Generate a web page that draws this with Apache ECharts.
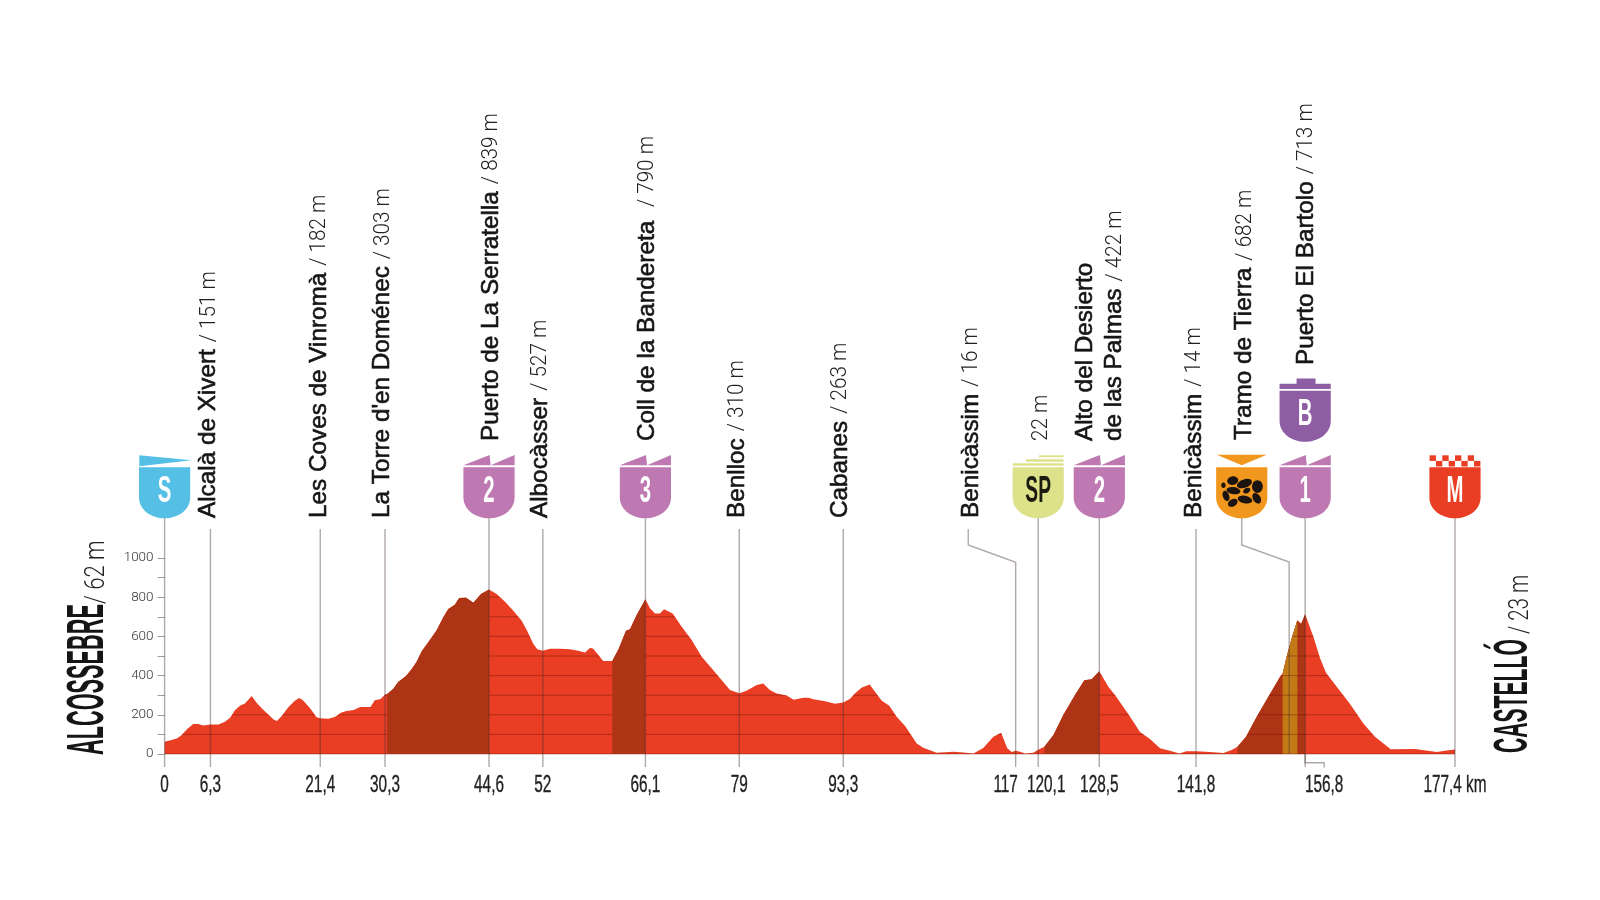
<!DOCTYPE html>
<html><head><meta charset="utf-8">
<style>html,body{margin:0;padding:0;background:#fff}#c{width:1600px;height:900px}</style>
<script src="https://cdn.jsdelivr.net/npm/echarts@6/dist/echarts.min.js"></script>
</head><body><div id="c"></div>
<script>
// ---- values ----
const km = [0,0.96,1.75,2.35,3.1,3.95,4.64,5.3,6.3,7.4,8.3,9,9.7,10.4,11.05,11.97,12.65,13.35,14,14.95,15.45,16.1,17,17.9,18.5,18.98,20,20.9,21.4,22.5,23.4,24.3,25,26,26.9,28.3,28.9,29.7,30.3,30.6,31.45,32.1,33.2,34,34.65,35.35,36.25,37.4,38.3,39,39.9,40.5,41.45,42.45,43.5,44.6,45.65,46.8,47.94,49.09,49.8,50.7,51.24,52,52.98,54.36,55.73,56.88,57.8,58.5,58.94,59.63,60.3,61.55,62.4,63.43,63.98,64.9,66.1,66.73,67.42,68.1,68.66,69.85,71.09,72.46,73.84,75.2,76.36,77.73,79,80,81.4,82.3,83.2,84.15,85.5,86.5,87.8,88.5,89.2,90.8,92.16,93.3,94.2,94.9,95.8,96.93,97.66,98.6,99.63,100.64,101.8,103.4,104.3,106.14,108.43,109.8,111.2,112.55,113.93,115,115.85,116.45,117,117.6,118.3,119.43,120.1,120.95,122.2,123.55,125.16,126.44,127.45,128.5,129.74,130.66,132.5,134.1,135.5,136.85,138.2,139.5,140.5,141.8,143.7,145.56,146.7,147.5,148.67,150.14,151.74,153.35,153.7,154.26,154.95,155.73,156.24,156.8,157.93,158.85,159.67,161.14,162.97,164.8,166.4,168.56,171.9,174.9,176.5,177.4];
const elevation = [62,71,80,97,128,153,153,146,151,150,165,185,224,248,258,296,262,233,211,177,168,194,238,272,286,275,233,187,182,180,189,212,219,224,240,240,274,280,303,306,333,367,398,435,471,524,570,632,697,740,762,796,797,772,816,839,816,777,731,680,632,561,535,527,537,537,534,527,518,542,537,505,474,474,535,629,636,709,790,743,717,717,739,717,649,581,496,437,386,326,310,323,352,360,326,309,299,277,287,287,279,269,257,263,280,309,338,354,318,272,246,190,143,54,32,7,12,8,3,31,88,109,29,10,16,12,3,7,22,37,97,199,301,376,381,422,343,301,203,112,75,29,17,2,14,14,10,5,20,37,88,190,292,394,410,496,590,682,663,713,598,488,415,343,255,156,88,24,25,10,19,23];
const climbs = [[30.6,44.6],[61.55,66.1],[120.95,128.5]];
const lastClimb = [147.5,156.8];
const gravel = [153.7,155.73];
const gridLevels = [0,100,200,300,400,500,600,700,800];

const tickKm = [0,6.3,21.4,30.3,44.6,52,66.1,79,93.3,117,120.1,128.5,141.8,156.8,177.4];
const tickLabels = ['0','6,3','21,4','30,3','44,6','52','66,1','79','93,3','117','120,1','128,5','141,8','156,8','177,4 km'];

const placeKm = [6.3,21.4,30.3,44.6,52,66.1,79,93.3,117,120.1,128.5,128.5,141.8,148.08,156.8];
const placeNames = ['Alcalà de Xivert','Les Coves de Vinromà',"La Torre d'en Doménec",'Puerto de La Serratella','Albocàsser','Coll de la Bandereta ','Benlloc','Cabanes','Benicàssim','','Alto del Desierto','de las Palmas','Benicàssim','Tramo de Tierra','Puerto El Bartolo'];
const placeHeights = ['/ 151 m','/ 182 m','/ 303 m','/ 839 m','/ 527 m','/ 790 m','/ 310 m','/ 263 m','/ 16 m','22 m','','/ 422 m','/ 14 m','/ 682 m','/ 713 m'];

const iconKm = [0,44.6,66.1,120.1,128.5,148.08,156.8,156.8,177.4];
const iconKinds = ['start','climb','climb','sprint','climb','gravel','climb','bonus','finish'];
const iconLetters = ['S','2','3','SP','2','','1','B','M'];

const startName = 'ALCOSSEBRE', startHeight = '/ 62 m';
const finishName = 'CASTELLÓ', finishHeight = '/ 23 m';

// ---- layout (pixels) ----
const AX = {left:164.6,width:1290.4,top:558,height:196};
const placeDx = [5.3,6.4,5,9,4.7,8.6,5,4,-37.4,10,-6.3,22.4,5,10,8];
const placeBottom = [518,518,518,441,518,441,518,518,518,441,441,441,518,440,365];
const tickDx = [0,0,0,0,0,0,0,0,0,-10,8,0,0,19,0];
const plainLeaders = [6.3,21.4,30.3,52,79,93.3,141.8];
const shieldLeaders = [0,44.6,66.1,120.1,128.5,156.8,177.4];
const COLORS = {start:'#55BFE6',climb:'#BE78B2',sprint:'#DDE28A',gravel:'#F2971E',bonus:'#8E5EA5',finish:'#E93E24'};
const NAME_FONT = '"Liberation Sans", Arial, sans-serif';
const THIN_FONT = 'Roboto, "Liberation Sans", sans-serif';
const NAME_STYLE = '400 24.3px '+NAME_FONT, THIN_STYLE = '300 22px '+THIN_FONT;
const measure = document.createElement('canvas').getContext('2d');
function textWidth(t,font){measure.font=font;return measure.measureText(t).width;}

const profile = km.map((k,i)=>[k,elevation[i]]);
const slice = r => profile.filter(p=>p[0]>=r[0]&&p[0]<=r[1]);
const areaSeries = (data,color,z)=>({type:'line',data,z,silent:true,showSymbol:false,symbol:'none',
  lineStyle:{width:0,color},areaStyle:{color,opacity:1},itemStyle:{color}});

function leaderPath(pts){return {type:'polyline',shape:{points:pts},style:{fill:null,stroke:'rgba(70,50,50,0.42)',lineWidth:1.4}};}

function renderLeaders(p,api){
  const x=api.coord([plainLeaders[p.dataIndex],0])[0];
  return leaderPath([[x,529],[x,767]]);
}
function renderShieldLeaders(p,api){
  const x=api.coord([shieldLeaders[p.dataIndex],0])[0];
  return leaderPath([[x,516],[x,767]]);
}
function renderSpecial(p,api){
  const c=k=>api.coord([k,0])[0], b=api.coord([0,0])[1];
  const x117=c(117),xg=c(154.6),xi=c(148.08),x156=c(156.8);
  const sets=[
    [[x117-47.4,529],[x117-47.4,545],[x117,562.3],[x117,767]],
    [[xi,518],[xi,545],[xg,562],[xg,b]],
    [[x156,b],[x156,762.7],[x156+19,762.7],[x156+19,767.5]]
  ];
  return leaderPath(sets[p.dataIndex]);
}
function renderGrid(p,api){
  const y=api.coord([0,gridLevels[p.dataIndex]])[1];
  const a=api.coord([0,0]),b=api.coord([177.4,0]);
  const pts=profile.map(q=>api.coord(q)); pts.push([b[0],b[1]+1],[a[0],a[1]+1]);
  return {type:'line',shape:{x1:a[0],y1:y,x2:b[0],y2:y},
    clipPath:{type:'polygon',shape:{points:pts}},
    style:{stroke:'rgba(110,15,0,0.42)',lineWidth:1}};
}
function renderTicks(p,api){
  const i=p.dataIndex,x=api.coord([tickKm[i],0])[0]+tickDx[i];
  return {type:'text',x,y:785,scaleX:0.64,style:{text:tickLabels[i],font:'400 24px '+NAME_FONT,fill:'#222',stroke:'#222',lineWidth:0.35,align:'center',verticalAlign:'middle'}};
}
function renderPlaces(p,api){
  const i=p.dataIndex,x=api.coord([placeKm[i],0])[0]+placeDx[i]-7.2;
  const name=placeNames[i],h=placeHeights[i],y=placeBottom[i];
  const kids=[];
  if(name) kids.push({type:'text',x,y,rotation:Math.PI/2,style:{text:name,font:NAME_STYLE,fill:'#151515',stroke:'#151515',lineWidth:0.6,align:'left',verticalAlign:'middle'}});
  if(h){
    const gap=name?textWidth(name,NAME_STYLE)+7:0;
    kids.push({type:'text',x:x+0.5,y:y-gap,rotation:Math.PI/2,scaleX:0.94,style:{text:h,font:THIN_STYLE,fill:'#222',align:'left',verticalAlign:'middle'}});
  }
  return {type:'group',children:kids};
}
function decoration(kind,color){
  if(kind==='climb') return [{type:'path',shape:{pathData:'M-25.6,-53L0.6,-63.3L1.6,-53L25.6,-63.3L25.6,-53Z'},style:{fill:color}}];
  if(kind==='start') return [{type:'polygon',shape:{points:[[-25.3,-63],[27,-58],[-25.3,-52]]},style:{fill:color}}];
  if(kind==='gravel') return [{type:'polygon',shape:{points:[[-25,-63.5],[25,-63.5],[0,-53]]},style:{fill:color}}];
  if(kind==='sprint') return [
    {type:'rect',shape:{x:0.7,y:-63,width:24.6,height:2},style:{fill:color}},
    {type:'rect',shape:{x:-12.3,y:-59,width:37.6,height:2.4},style:{fill:color}},
    {type:'rect',shape:{x:-25.3,y:-55,width:50.6,height:2.4},style:{fill:color}}];
  if(kind==='bonus') return [{type:'path',shape:{pathData:'M-25.6,-52.7L-25.6,-58L-8.6,-58L-8.6,-63.3L10.4,-63.3L10.4,-58L25.6,-58L25.6,-52.7Z'},style:{fill:color}}];
  if(kind==='finish'){
    const out=[],w=6.35;
    for(let c=0;c<8;c++){out.push({type:'rect',shape:{x:-25.4+c*w,y:c%2?-57.4:-63,width:w,height:5.6},style:{fill:color}});}
    return out;
  }
  return [];
}
const ROCKS=[[-9,-37.7,5.6,4.3,0.2],[-18.3,-33,2.2,2.7,0],[2.7,-34.7,7.8,4.2,0.35],[15.7,-31.7,5.4,6.4,0],[-8.3,-27.7,7,3.6,-0.15],[5,-27.7,3.8,2.6,0.5],[-15.7,-22.3,3.2,5.4,0.35],[3.3,-18.7,7.4,3.8,-0.2],[15,-20,3.8,5.8,0.55],[-9,-15.5,5.2,3.6,0.5]];
function renderIcons(p,api){
  const i=p.dataIndex,kind=iconKinds[i],color=COLORS[kind],x=api.coord([iconKm[i],0])[0];
  const bottom=kind==='bonus'?441.7:518.3;
  const kids=decoration(kind,color);
  kids.push({type:'path',shape:{pathData:'M-25.6,-51L25.6,-51L25.6,-21C25.6,-8 13,0 0,0C-13,0 -25.6,-8 -25.6,-21Z'},style:{fill:color}});
  if(kind==='gravel') ROCKS.forEach(r=>kids.push({type:'ellipse',x:r[0],y:r[1],rotation:r[4],shape:{cx:0,cy:0,rx:r[2],ry:r[3]},style:{fill:'#1b1410'}}));
  if(iconLetters[i]) kids.push({type:'text',x:0,y:-26.5,scaleX:kind==='sprint'?0.52:0.55,style:{text:iconLetters[i],font:'700 37px '+NAME_FONT,fill:kind==='sprint'?'#1a1a10':'#fff',align:'center',verticalAlign:'middle'}});
  return {type:'group',x,y:bottom,children:kids};
}
function renderEnds(p,api){
  const items=[
    {t:startName,x:89,y:755,s:0.418,f:'700 52px '+NAME_FONT,c:'#151515'},
    {t:startHeight,x:96.5,y:604,s:0.79,f:'300 28px '+THIN_FONT,c:'#222'},
    {t:finishName,x:1513.5,y:753,s:0.44,f:'700 48px '+NAME_FONT,c:'#151515'},
    {t:finishHeight,x:1521,y:634,s:0.735,f:'300 28px '+THIN_FONT,c:'#222'}
  ];
  const it=items[p.dataIndex];
  return {type:'text',x:it.x,y:it.y,rotation:Math.PI/2,scaleX:it.s,style:{text:it.t,font:it.f,fill:it.c,align:'left',verticalAlign:'middle'}};
}
const custom=(data,renderItem,z)=>({type:'custom',coordinateSystem:'cartesian2d',data:data.map((d,i)=>[i]),renderItem,z,silent:true,clip:false,encode:{x:[],y:[]}});

const chart=echarts.init(document.getElementById('c'),null,{renderer:'canvas',width:1600,height:900});
chart.setOption({
  animation:false,backgroundColor:'#fff',
  grid:{left:AX.left,width:AX.width,top:AX.top,height:AX.height,containLabel:false},
  xAxis:{type:'value',min:0,max:177.4,show:false},
  yAxis:{type:'value',min:0,max:1000,interval:200,
    axisLine:{show:false},splitLine:{show:false},
    axisTick:{show:true,length:7,lineStyle:{color:'#9a9a9a',width:1}},
    minorTick:{show:true,splitNumber:2,length:7,lineStyle:{color:'#9a9a9a',width:1}},
    axisLabel:{margin:11,color:'#333',fontFamily:THIN_FONT,fontWeight:300,fontSize:13.5,formatter:v=>String(v)}},
  series:[
    areaSeries(profile,'#E93E24',1),
    areaSeries(slice(lastClimb),'#AE3416',2),
    areaSeries(slice(gravel),'#C27A17',3),
    custom(gridLevels,renderGrid,4),
    ...climbs.map(c=>areaSeries(slice(c),'#AE3416',5)),
    custom(plainLeaders,renderLeaders,6),
    custom(shieldLeaders,renderShieldLeaders,6),
    custom([0,1,2],renderSpecial,6),
    custom(tickKm,renderTicks,7),
    custom(placeKm,renderPlaces,7),
    custom(iconKm,renderIcons,8),
    custom([0,1,2,3],renderEnds,7)
  ]
});
</script></body></html>
